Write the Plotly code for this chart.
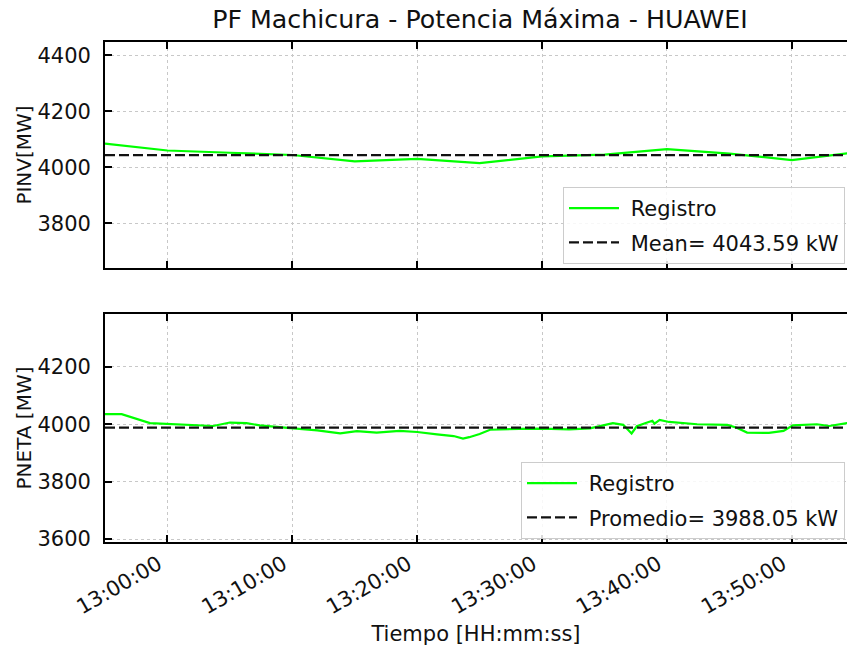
import plotly.graph_objects as go

# ---------------- data ----------------
DATE = "2024-01-01 "

pinv_times = ["12:55:00", "13:00:00", "13:05:00", "13:10:00", "13:15:00", "13:20:00",
              "13:25:00", "13:30:00", "13:35:00", "13:40:00", "13:45:00", "13:50:00", "13:55:00"]
pinv_values = [4085, 4060, 4052, 4044, 4021, 4030, 4015, 4039, 4045, 4065, 4049, 4026, 4053]
pinv_mean = 4043.59

pneta_times = ["12:55:00", "12:56:20", "12:58:36", "13:00:00", "13:01:30", "13:03:40", "13:05:00",
               "13:06:20", "13:07:24", "13:09:00", "13:10:05", "13:12:00", "13:13:50", "13:15:10",
               "13:16:45", "13:18:35", "13:20:00", "13:21:35", "13:22:55", "13:23:40", "13:24:10",
               "13:25:00", "13:25:50", "13:28:10", "13:30:00", "13:32:10", "13:33:50", "13:35:40",
               "13:36:30", "13:37:10", "13:37:35", "13:38:25", "13:38:50", "13:39:00", "13:39:25",
               "13:40:10", "13:42:25", "13:44:50", "13:45:35", "13:46:25", "13:48:10", "13:49:20",
               "13:50:05", "13:52:00", "13:53:00", "13:54:25", "13:55:00"]
pneta_values = [4035, 4035, 4004, 4001, 3999, 3994, 4006,
                4004, 3996, 3991, 3986, 3979, 3968, 3976,
                3971, 3977, 3973, 3965, 3959, 3950, 3955,
                3966, 3981, 3984, 3985, 3982, 3986, 4004,
                3998, 3968, 3993, 4006, 4012, 4002, 4015,
                4008, 4000, 3998, 3988, 3971, 3970, 3977,
                3996, 4000, 3994, 4004, 4008]
pneta_mean = 3988.05

x_tick_labels = ["13:00:00", "13:10:00", "13:20:00", "13:30:00", "13:40:00", "13:50:00"]
x_range = ["12:55:00", "13:54:25"]

title_text = "PF Machicura - Potencia Máxima - HUAWEI"
ylabel_top = "PINV[MW]"
ylabel_bot = "PNETA [MW]"
xlabel = "Tiempo [HH:mm:ss]"
legend_reg = "Registro"
legend_mean_top = "Mean= %.2f kW" % pinv_mean
legend_mean_bot = "Promedio= %.2f kW" % pneta_mean

# ---------------- figure ----------------
FONT = "DejaVu Sans"
GREEN = "#00ff00"
TXT = "#111111"
GAP = "\u00a0"

px_top = [DATE + t for t in pinv_times]
px_bot = [DATE + t for t in pneta_times]
ticks = [DATE + t for t in x_tick_labels]
xr = [DATE + t for t in x_range]

fig = go.Figure()
fig.add_trace(go.Scatter(x=px_top, y=pinv_values, mode="lines", name=GAP + legend_reg,
                         line=dict(color=GREEN, width=2.2), xaxis="x", yaxis="y",
                         legend="legend", legendgroup="a"))
fig.add_trace(go.Scatter(x=[px_top[0], px_top[-1]], y=[pinv_mean, pinv_mean], mode="lines",
                         name=GAP + legend_mean_top,
                         line=dict(color="#111111", width=2.2, dash="10px,4px"),
                         xaxis="x", yaxis="y", legend="legend", legendgroup="b"))
fig.add_trace(go.Scatter(x=px_bot, y=pneta_values, mode="lines", name=GAP + legend_reg,
                         line=dict(color=GREEN, width=2.2), xaxis="x2", yaxis="y2",
                         legend="legend2", legendgroup="c"))
fig.add_trace(go.Scatter(x=[px_bot[0], px_bot[-1]], y=[pneta_mean, pneta_mean], mode="lines",
                         name=GAP + legend_mean_bot,
                         line=dict(color="#111111", width=2.2, dash="10px,4px"),
                         xaxis="x2", yaxis="y2", legend="legend2", legendgroup="d"))

common_x = dict(type="date", range=xr, tickmode="array", tickvals=ticks,
                tickformat="%H:%M:%S", ticks="inside", ticklen=7, tickwidth=1.6,
                tickcolor="black", showline=True, linecolor="black", linewidth=1.8,
                mirror="ticks", showgrid=True, gridcolor="#c8c8c8", griddash="dot",
                gridwidth=1, zeroline=False)
common_y = dict(ticks="inside", ticklen=7, tickwidth=1.6, tickcolor="black",
                showline=True, linecolor="black", linewidth=1.8, mirror=False,
                showgrid=True, gridcolor="#c8c8c8", griddash="dot", gridwidth=1,
                zeroline=False, tickfont=dict(family=FONT, size=21, color=TXT),
                ticklabelstandoff=8, dtick=200)

leg_common = dict(x=0.9973, xanchor="right", yanchor="top",
                  bgcolor="rgba(255,255,255,0.85)", bordercolor="#cccccc", borderwidth=1,
                  font=dict(family=FONT, size=21, color=TXT), tracegroupgap=4,
                  itemwidth=50)

fig.update_layout(
    width=847, height=648,
    margin=dict(l=105, r=0, t=42, b=106, autoexpand=False),
    paper_bgcolor="white", plot_bgcolor="white",
    font=dict(family=FONT, size=21, color=TXT),
    title=dict(text=title_text, font=dict(family=FONT, size=25.3, color=TXT),
               x=(480 - 105) / 742, xref="paper", xanchor="center",
               y=1 - 19 / 648, yref="container", yanchor="middle"),
    xaxis=dict(common_x, domain=[0, 1], anchor="y", showticklabels=False),
    yaxis=dict(common_y, domain=[0.548, 1], range=[3640, 4448], tick0=3800,
               title=dict(text=ylabel_top, font=dict(family=FONT, size=20), standoff=0)),
    xaxis2=dict(common_x, domain=[0, 1], anchor="y2", matches="x", tickangle=-30,
                tickfont=dict(family=FONT, size=21, color=TXT), ticklabelshift=-9,
                title=dict(text=xlabel, font=dict(family=FONT, size=21), standoff=8)),
    yaxis2=dict(common_y, domain=[0, 0.456], range=[3590, 4384], tick0=3600,
                title=dict(text=ylabel_bot, font=dict(family=FONT, size=20), standoff=0)),
    legend=dict(leg_common, y=0.71),
    legend2=dict(leg_common, y=0.16),
    showlegend=True,
)

fig.write_html("out.html")
